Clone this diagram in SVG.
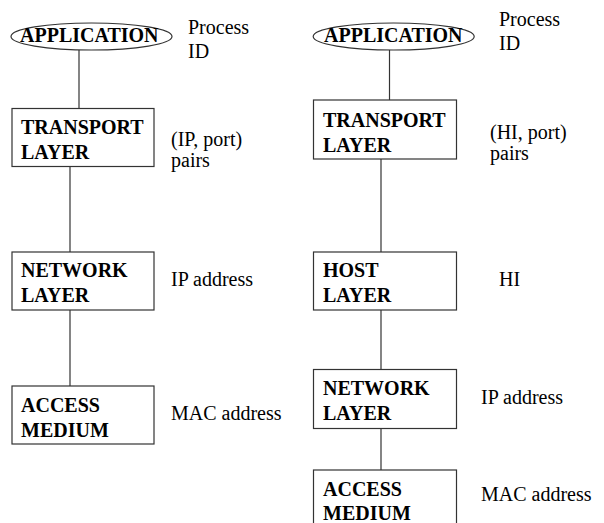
<svg xmlns="http://www.w3.org/2000/svg" width="604" height="523" viewBox="0 0 604 523" font-family="'Liberation Serif', 'Times New Roman', 'DejaVu Serif', serif">
<style>
.box{fill:#fff;stroke:#333;stroke-width:1.2}
.ln{stroke:#333;stroke-width:1.2;fill:none}
.b{font-family:'Liberation Serif','Times New Roman',serif;font-weight:bold;font-size:20px;fill:#000}
.t{font-family:'Liberation Serif','Times New Roman',serif;font-size:20px;fill:#000}
</style>
<rect width="604" height="523" fill="#fff"/>
<g id="connectors">
<line class="ln" x1="79" y1="50" x2="79" y2="108"/>
<line class="ln" x1="70" y1="167" x2="70" y2="252"/>
<line class="ln" x1="70" y1="310" x2="70" y2="386"/>
<line class="ln" x1="389.5" y1="50" x2="389.5" y2="100"/>
<line class="ln" x1="381" y1="159" x2="381" y2="252"/>
<line class="ln" x1="381" y1="310" x2="381" y2="369"/>
<line class="ln" x1="381" y1="428" x2="381" y2="470"/>
</g>
<g id="app-left">
<ellipse class="box" cx="91.5" cy="36.5" rx="80.5" ry="13.5"/>
<text class="b" x="20" y="42">APPLICATION</text>
</g>
<g id="app-left-label">
<text class="t" x="188" y="34">Process</text>
<text class="t" x="188" y="58">ID</text>
</g>
<g id="transport-left">
<rect class="box" x="12" y="108.5" width="142" height="58"/>
<text class="b" x="21" y="134">TRANSPORT</text>
<text class="b" x="21" y="159">LAYER</text>
</g>
<g id="transport-left-label">
<text class="t" x="171" y="146">(IP, port)</text>
<text class="t" x="171" y="167">pairs</text>
</g>
<g id="network-left">
<rect class="box" x="12" y="252" width="142" height="58"/>
<text class="b" x="21" y="277">NETWORK</text>
<text class="b" x="21" y="302">LAYER</text>
</g>
<g id="network-left-label">
<text class="t" x="171" y="286">IP address</text>
</g>
<g id="access-left">
<rect class="box" x="12" y="386" width="142" height="58"/>
<text class="b" x="21" y="412">ACCESS</text>
<text class="b" x="21" y="437">MEDIUM</text>
</g>
<g id="access-left-label">
<text class="t" x="171" y="420">MAC address</text>
</g>
<g id="app-right">
<ellipse class="box" cx="393.7" cy="36.5" rx="80.5" ry="13.5"/>
<text class="b" x="324" y="42">APPLICATION</text>
</g>
<g id="app-right-label">
<text class="t" x="499" y="26">Process</text>
<text class="t" x="499" y="50">ID</text>
</g>
<g id="transport-right">
<rect class="box" x="313.5" y="100" width="143" height="59"/>
<text class="b" x="323" y="127">TRANSPORT</text>
<text class="b" x="323" y="152">LAYER</text>
</g>
<g id="transport-right-label">
<text class="t" x="490" y="139">(HI, port)</text>
<text class="t" x="490" y="160">pairs</text>
</g>
<g id="host-right">
<rect class="box" x="313.5" y="252" width="143" height="58"/>
<text class="b" x="323" y="277">HOST</text>
<text class="b" x="323" y="302">LAYER</text>
</g>
<g id="host-right-label">
<text class="t" x="499" y="286">HI</text>
</g>
<g id="network-right">
<rect class="box" x="313.5" y="369.5" width="143" height="59"/>
<text class="b" x="323" y="395">NETWORK</text>
<text class="b" x="323" y="420">LAYER</text>
</g>
<g id="network-right-label">
<text class="t" x="481" y="404">IP address</text>
</g>
<g id="access-right">
<rect class="box" x="313.5" y="470" width="143" height="60"/>
<text class="b" x="323" y="496">ACCESS</text>
<text class="b" x="323" y="520">MEDIUM</text>
</g>
<g id="access-right-label">
<text class="t" x="481" y="501">MAC address</text>
</g>
</svg>
